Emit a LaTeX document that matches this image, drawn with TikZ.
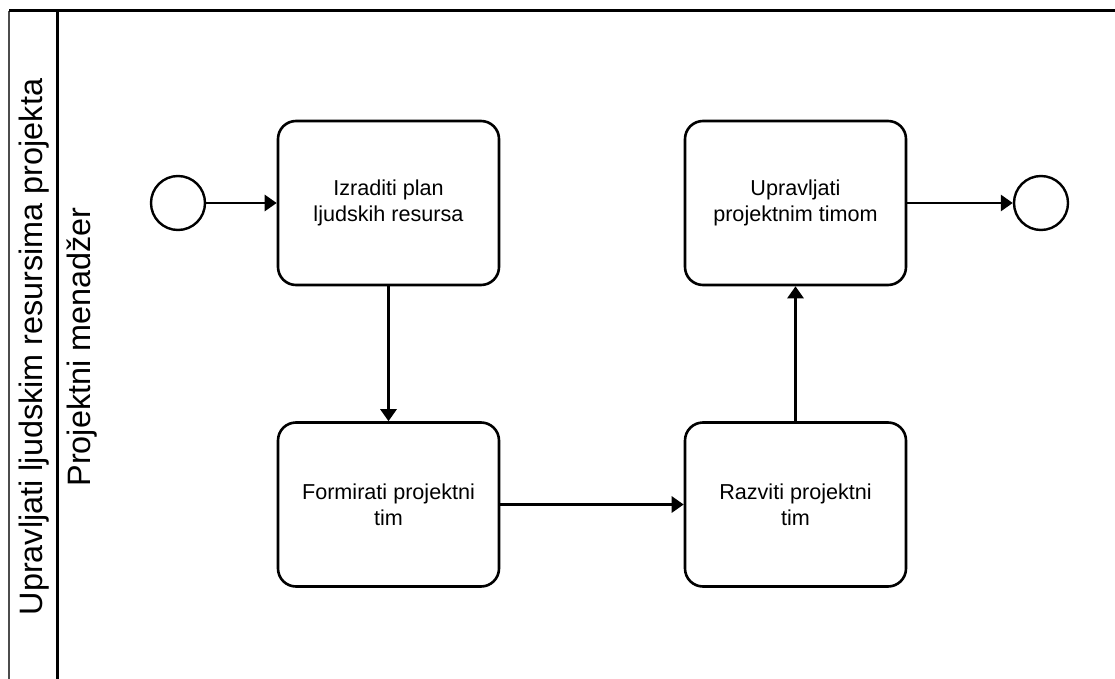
\documentclass[tikz,border=0pt]{standalone}
\usepackage{fontspec}
\setmainfont{Liberation Sans}
\usetikzlibrary{arrows.meta}

\begin{document}
\begin{tikzpicture}[x=1pt,y=-1pt,
	task/.style={draw,line width=2.6pt,rounded corners=18pt,minimum width=221pt,minimum height=164pt,inner sep=0pt,align=center,font=\fontsize{21.6}{26}\selectfont},
	event/.style={draw,circle,line width=2.4pt,minimum size=54pt,inner sep=0pt},
	flow/.style={line width=2.8pt,-{Triangle[length=12pt,width=16pt]}},
	lanelabel/.style={rotate=90,inner sep=0pt,font=\fontsize{32.4}{38}\selectfont}]
	\useasboundingbox (0,0) rectangle (1115,679);
	% pool and lane frame
	\draw[line width=2.4pt,black!70] (9,679)--(9,11);
	\draw[line width=3pt] (9,11)--(1115,11);
	\draw[line width=3pt] (57,11)--(57,679);
	\node (pool) at (34,347)[lanelabel] {Upravljati ljudskim resursima projekta};
	\node (lane) at (82,347)[lanelabel] {Projektni menadžer};
	% events and tasks
	\node (start) at (178,203)[event] {};
	\node (plan) at (388.5,203)[task] {Izraditi plan\\ljudskih resursa};
	\node (formiraj) at (388.5,504.5)[task] {Formirati projektni\\tim};
	\node (razvij) at (795.5,504.5)[task] {Razviti projektni\\tim};
	\node (upravljaj) at (795.5,203)[task] {Upravljati\\projektnim timom};
	\node (kraj) at (1041,203)[event] {};
	% sequence flows
	\draw[flow] (start)--(plan);
	\draw[flow] (plan)--(formiraj);
	\draw[flow] (formiraj)--(razvij);
	\draw[flow] (razvij)--(upravljaj);
	\draw[flow] (upravljaj)--(kraj);
\end{tikzpicture}
\end{document}
